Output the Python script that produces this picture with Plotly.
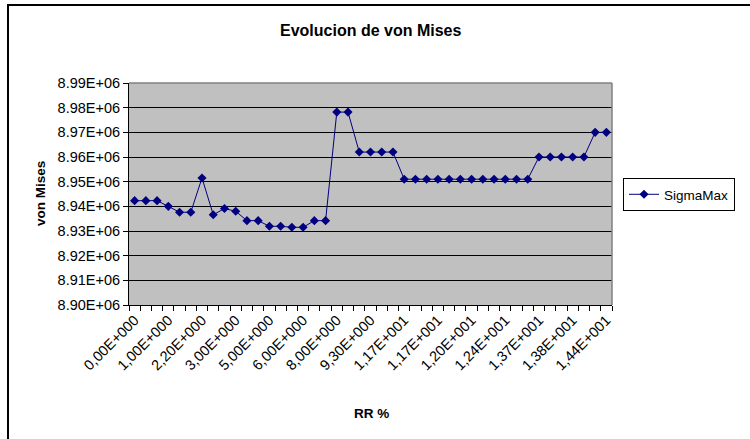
import plotly.graph_objects as go

# RR % categories (one label shown every third category)
tick_labels = ["0,00E+000", "1,00E+000", "2,20E+000", "3,00E+000", "5,00E+000",
               "6,00E+000", "8,00E+000", "9,30E+000", "1,17E+001", "1,17E+001",
               "1,20E+001", "1,24E+001", "1,37E+001", "1,38E+001", "1,44E+001"]

# Maximum von Mises stress per step
sigma_max = [8.9423e6, 8.9423e6, 8.9423e6, 8.9400e6, 8.9376e6, 8.9376e6, 8.9515e6,
             8.9366e6, 8.9391e6, 8.9380e6, 8.9342e6, 8.9342e6, 8.9319e6, 8.9319e6,
             8.9315e6, 8.9315e6, 8.9342e6, 8.9342e6, 8.9782e6, 8.9782e6, 8.9620e6,
             8.9620e6, 8.9620e6, 8.9620e6, 8.9510e6, 8.9510e6, 8.9510e6, 8.9510e6,
             8.9510e6, 8.9510e6, 8.9510e6, 8.9510e6, 8.9510e6, 8.9510e6, 8.9510e6,
             8.9510e6, 8.9600e6, 8.9600e6, 8.9600e6, 8.9600e6, 8.9600e6, 8.9700e6,
             8.9700e6]

y_tickvals = [8.90e6, 8.91e6, 8.92e6, 8.93e6, 8.94e6, 8.95e6, 8.96e6, 8.97e6, 8.98e6, 8.99e6]
y_ticktext = ["8.90E+06", "8.91E+06", "8.92E+06", "8.93E+06", "8.94E+06",
              "8.95E+06", "8.96E+06", "8.97E+06", "8.98E+06", "8.99E+06"]

n = len(sigma_max)
x = list(range(n))
label_pos = x[::3]

FONT = "Liberation Sans, Arial, sans-serif"
NAVY = "#000080"
TICK_SIZE = 14.5

fig = go.Figure()
fig.add_trace(go.Scatter(
    x=x, y=sigma_max, mode="lines+markers", name="SigmaMax",
    line=dict(color=NAVY, width=1),
    marker=dict(symbol="diamond", size=7, color=NAVY),
))

fig.update_layout(
    width=750, height=439,
    margin=dict(l=129, r=138, t=83, b=134),
    paper_bgcolor="white",
    plot_bgcolor="#C0C0C0",
    font=dict(family=FONT, size=TICK_SIZE, color="black"),
    showlegend=True,
    legend=dict(
        x=1.0228, y=0.4977, xanchor="left", yanchor="middle",
        bordercolor="black", borderwidth=1, bgcolor="white",
        font=dict(family=FONT, size=13.5, color="black"),
        entrywidth=110,
    ),
    xaxis=dict(
        range=[-0.5, n - 0.5],
        tickmode="array", tickvals=label_pos, ticktext=tick_labels,
        tickangle=-45, ticks="", showgrid=False, zeroline=False,
        showline=True, linecolor="black", linewidth=1,
        tickfont=dict(family=FONT, size=TICK_SIZE, color="black"),
        minor=dict(tickmode="array", tickvals=[i - 0.5 for i in range(n + 1)],
                   ticks="outside", ticklen=5, tickcolor="black", showgrid=False),
    ),
    yaxis=dict(
        range=[8.90e6, 8.99e6],
        tickmode="array", tickvals=y_tickvals, ticktext=y_ticktext,
        ticks="outside", ticklen=5, tickcolor="black",
        showgrid=True, gridcolor="black", gridwidth=1, zeroline=False,
        showline=True, linecolor="black", linewidth=1,
        tickfont=dict(family=FONT, size=TICK_SIZE, color="black"),
    ),
    annotations=[
        dict(text="<b>Evolucion de von Mises</b>", x=0.5, y=(305 - 31) / 222,
             xref="paper", yref="paper", showarrow=False,
             xanchor="center", yanchor="middle",
             font=dict(family=FONT, size=16, color="black")),
        dict(text="<b>von Mises</b>", x=(40 - 129) / 483, y=0.5,
             xref="paper", yref="paper", showarrow=False, textangle=-90,
             xanchor="center", yanchor="middle",
             font=dict(family=FONT, size=13.5, color="black")),
        dict(text="<b>RR %</b>", x=(371 - 129) / 483, y=(305 - 413) / 222,
             xref="paper", yref="paper", showarrow=False,
             xanchor="center", yanchor="middle",
             font=dict(family=FONT, size=13.5, color="black")),
    ],
    shapes=[
        # gray frame on the top and right of the plotting area
        dict(type="line", xref="paper", yref="paper", x0=0, x1=1, y0=1, y1=1,
             line=dict(color="#808080", width=1.5)),
        dict(type="line", xref="paper", yref="paper", x0=1, x1=1, y0=0, y1=1,
             line=dict(color="#808080", width=1.5)),
        # outer chart border
        dict(type="rect", xref="paper", yref="paper",
             x0=(8 - 129) / 483, x1=1.5, y0=-1.0, y1=(305 - 5) / 222,
             line=dict(color="black", width=2), layer="below"),
    ],
)

fig.write_html("out.html")
